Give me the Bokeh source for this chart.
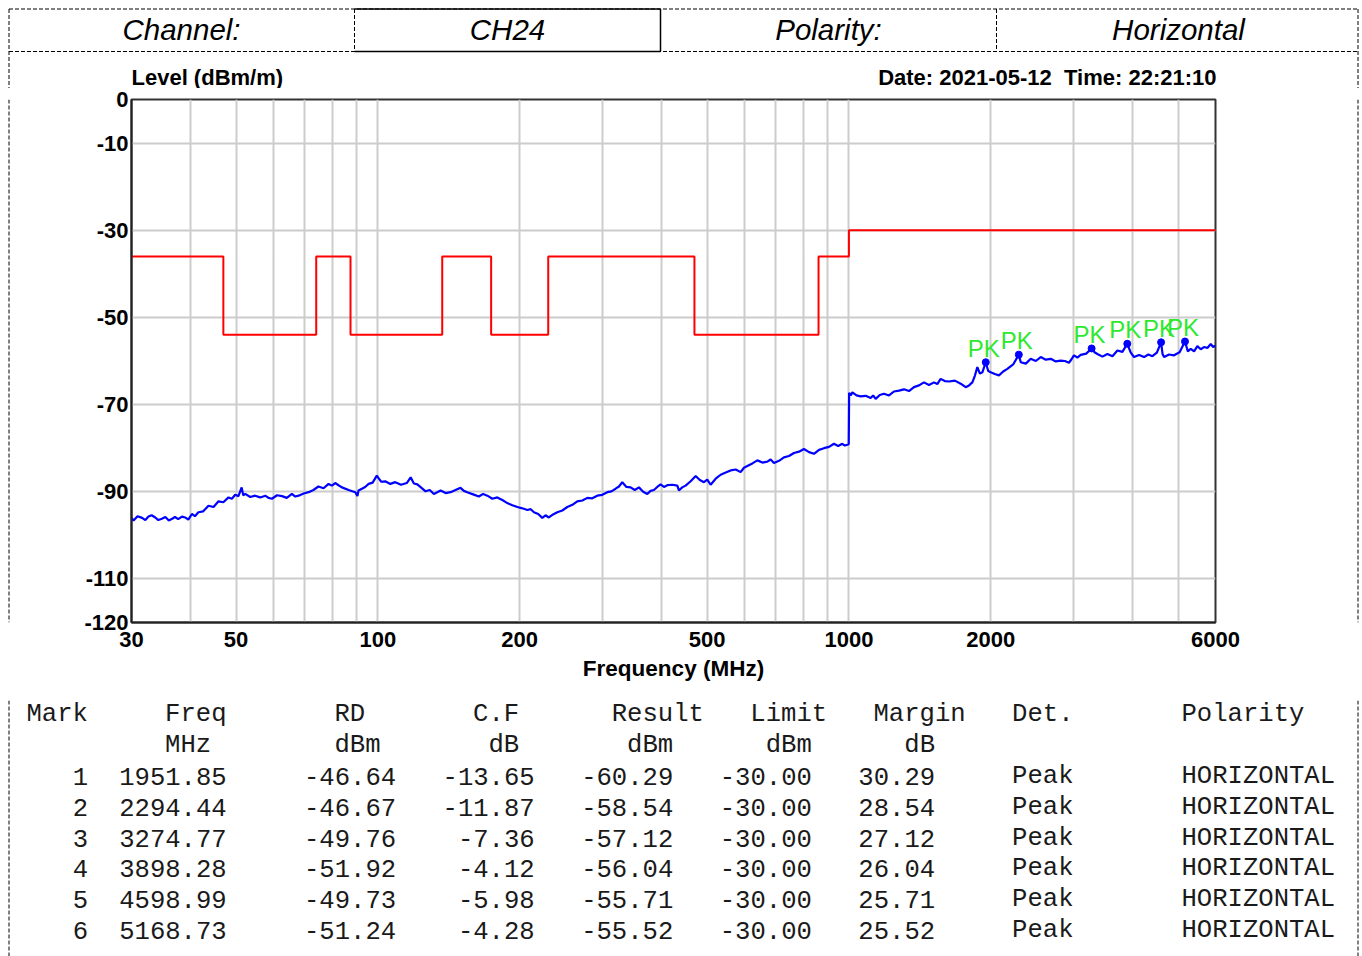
from bokeh.plotting import figure
from bokeh.layouts import column, row
from bokeh.models import Range1d, FixedTicker, NumeralTickFormatter, ColumnDataSource
from bokeh.core.properties import value
from bokeh.embed import file_html
from bokeh.resources import INLINE

# ---------------- data ----------------
trace_freq = [
    30.0, 30.3, 30.9, 31.6, 32.1, 32.6, 33.1, 33.7, 34.2, 34.8, 35.4, 36.0, 36.6, 37.1, 37.7,
    38.4, 39.0, 39.6, 40.3, 40.9, 41.6, 42.6, 43.7, 44.8, 45.9, 47.0, 48.2, 49.0, 49.8, 50.6,
    51.4, 51.8, 52.3, 53.6, 54.9, 56.3, 57.7, 58.6, 59.6, 61.1, 62.6, 64.1, 65.7, 66.8, 67.9,
    69.6, 71.3, 73.0, 74.8, 76.7, 78.6, 79.9, 81.2, 82.5, 83.9, 86.7, 89.6, 90.5, 91.0, 92.5,
    94.0, 95.6, 97.5, 99.5, 101.6, 103.7, 106.3, 108.9, 112.0, 115.2, 117.4, 119.3, 121.3,
    123.8, 126.3, 128.9, 131.5, 133.7, 135.9, 139.3, 142.7, 146.2, 149.8, 152.3, 154.8, 159.3,
    163.9, 167.3, 170.8, 175.0, 179.3, 183.8, 188.3, 193.0, 197.8, 202.7, 207.7, 211.1, 214.5,
    219.0, 223.4, 227.0, 230.7, 235.5, 240.4, 246.4, 252.5, 258.8, 265.1, 271.7, 278.4, 285.3,
    292.3, 299.6, 307.0, 313.3, 319.7, 325.0, 330.3, 337.1, 344.0, 351.1, 358.3, 365.8, 373.3,
    379.4, 385.5, 391.9, 398.3, 405.0, 411.7, 422.0, 432.3, 435.6, 442.8, 450.1, 461.4, 472.8,
    482.5, 492.3, 500.5, 508.7, 521.4, 534.2, 547.6, 561.0, 575.0, 589.0, 598.8, 608.6, 623.9,
    639.2, 655.2, 671.2, 682.2, 693.2, 710.5, 727.9, 746.1, 764.4, 783.5, 802.7, 822.8, 842.9,
    864.1, 885.3, 907.3, 929.4, 948.8, 968.3, 980.2, 992.2, 999.0, 1000.0, 1001.0, 1008.9,
    1016.9, 1038.0, 1059.0, 1085.5, 1112.0, 1125.7, 1139.5, 1163.0, 1186.6, 1216.5, 1246.3,
    1277.5, 1308.7, 1341.4, 1374.2, 1408.6, 1443.1, 1479.2, 1515.3, 1540.4, 1565.6, 1598.1,
    1630.6, 1678.6, 1726.7, 1748.0, 1769.3, 1798.7, 1828.1, 1850.7, 1873.3, 1896.6, 1920.0,
    1951.85, 1975.6, 1999.5, 2040.7, 2082.0, 2125.6, 2169.3, 2231.9, 2294.44, 2316.0, 2373.9,
    2431.8, 2492.7, 2553.6, 2617.6, 2681.7, 2748.7, 2815.8, 2873.7, 2931.6, 2968.0, 3004.2,
    3054.5, 3104.7, 3189.7, 3274.77, 3321.6, 3368.4, 3453.0, 3537.6, 3626.1, 3714.6, 3806.4,
    3898.28, 3963.3, 4028.4, 4130.0, 4231.5, 4320.0, 4408.5, 4503.7, 4598.99, 4632.3, 4665.6,
    4782.5, 4899.3, 5034.0, 5168.73, 5241.9, 5315.1, 5403.3, 5491.5, 5581.7, 5671.8, 5766.8,
    5861.7, 5930.9, 6000.0]
trace_level = [
    -96.0, -96.6, -95.6, -96.0, -96.5, -95.7, -95.4, -95.9, -96.5, -96.2, -95.8, -96.6, -96.2,
    -95.8, -96.3, -95.7, -95.9, -96.4, -95.1, -95.6, -94.7, -94.5, -93.2, -93.5, -92.2, -92.4,
    -91.3, -91.6, -90.7, -91.0, -89.0, -90.8, -90.5, -91.2, -90.9, -91.3, -90.9, -91.4, -91.6,
    -90.8, -91.0, -91.4, -90.5, -91.1, -90.9, -90.4, -90.1, -89.6, -88.8, -89.2, -88.2, -88.6,
    -88.0, -88.5, -89.0, -89.6, -90.1, -91.0, -89.7, -89.3, -88.9, -88.2, -87.9, -86.3, -87.7,
    -87.6, -88.2, -87.8, -88.4, -88.0, -86.7, -88.1, -88.3, -89.1, -89.9, -89.6, -90.5, -90.1,
    -89.7, -90.3, -90.1, -89.6, -89.1, -89.8, -90.1, -90.6, -91.1, -90.5, -90.9, -91.6, -91.3,
    -91.9, -92.6, -93.1, -93.5, -93.8, -94.2, -94.0, -94.7, -95.1, -96.0, -95.4, -95.9, -95.2,
    -94.7, -94.3, -93.5, -93.0, -92.2, -92.0, -91.4, -91.5, -90.9, -90.7, -90.1, -89.9, -89.3,
    -88.8, -87.8, -88.9, -89.0, -89.6, -89.0, -90.0, -90.5, -89.8, -89.6, -88.9, -88.3, -88.9,
    -88.5, -88.4, -88.6, -89.7, -89.0, -88.6, -87.6, -86.4, -87.3, -87.8, -87.2, -88.4, -87.0,
    -86.1, -85.6, -85.1, -84.9, -85.5, -84.5, -84.1, -83.5, -82.8, -83.3, -83.1, -82.6, -83.4,
    -82.9, -82.1, -81.8, -81.1, -80.8, -80.2, -80.9, -81.3, -80.4, -80.0, -79.7, -79.0, -79.5,
    -79.0, -79.4, -79.2, -79.1, -74.0, -67.3, -67.9, -67.2, -67.9, -68.1, -68.0, -68.5, -67.9,
    -68.7, -67.8, -67.5, -67.9, -67.0, -66.8, -66.5, -66.9, -66.0, -65.6, -64.9, -65.5, -64.9,
    -65.3, -64.1, -64.6, -64.7, -64.5, -65.2, -65.6, -66.0, -65.6, -64.9, -63.4, -61.4, -62.9,
    -62.6, -60.29, -62.3, -62.6, -63.0, -63.3, -62.4, -61.8, -60.8, -58.54, -60.3, -60.6,
    -59.5, -60.0, -59.1, -59.7, -59.5, -60.1, -59.9, -60.0, -60.4, -59.6, -58.7, -59.2, -58.6,
    -58.3, -57.12, -58.0, -58.4, -59.0, -58.4, -58.9, -57.6, -57.9, -56.04, -58.0, -59.1,
    -58.6, -59.1, -58.5, -58.9, -58.1, -55.71, -58.4, -59.1, -58.5, -58.7, -58.0, -55.52,
    -57.8, -57.2, -57.8, -56.6, -57.3, -56.8, -57.0, -56.1, -56.8, -56.5]

limit_edges = [30, 47, 74, 87.5, 137, 174, 230, 470, 862, 1000, 6000]
limit_level = [-36, -54, -36, -54, -36, -54, -36, -54, -36, -30]

mark_no = [1, 2, 3, 4, 5, 6]
mark_freq = [1951.85, 2294.44, 3274.77, 3898.28, 4598.99, 5168.73]
mark_rd = [-46.64, -46.67, -49.76, -51.92, -49.73, -51.24]
mark_cf = [-13.65, -11.87, -7.36, -4.12, -5.98, -4.28]
mark_result = [-60.29, -58.54, -57.12, -56.04, -55.71, -55.52]
mark_limit = [-30.00, -30.00, -30.00, -30.00, -30.00, -30.00]
mark_margin = [30.29, 28.54, 27.12, 26.04, 25.71, 25.52]
mark_det = ["Peak", "Peak", "Peak", "Peak", "Peak", "Peak"]
mark_pol = ["HORIZONTAL"] * 6

x_ticks = [30, 50, 100, 200, 500, 1000, 2000, 6000]
x_grid = [40, 50, 60, 70, 80, 90, 100, 200, 300, 400, 500, 600, 700, 800, 900, 1000,
          2000, 3000, 4000, 5000]
y_ticks = [0, -10, -30, -50, -70, -90, -110, -120]
y_grid = [-10, -30, -50, -70, -90, -110]

header_texts = ["Channel:", "CH24", "Polarity:", "Horizontal"]
table_head1 = ["Mark", "Freq", "RD", "C.F", "Result", "Limit", "Margin", "Det.", "Polarity"]
table_head2 = ["MHz", "dBm", "dB", "dBm", "dBm", "dB"]

# ---------------- layout constants (page pixels) ----------------
W = 1362
TOP_H = 88          # header band: y 0..88
MID_H = 612         # chart band:  y 88..700
BOT_H = 956 - TOP_H - MID_H   # table band: y 700..956
XL, XR = 8.5, 1357.5          # outer dashed page border
SANS = value("Liberation Sans")
MONO = value("Liberation Mono")
DASH = "4 2"


def pix_fig(w, h, x0, y0):
    f = figure(width=w, height=h, x_range=Range1d(x0, x0 + w), y_range=Range1d(y0 + h, y0),
               output_backend="svg", toolbar_location=None, min_border=0,
               x_axis_location=None, y_axis_location=None)
    f.xgrid.visible = False
    f.ygrid.visible = False
    f.outline_line_color = None
    f.background_fill_color = "white"
    f.border_fill_color = "white"
    return f


# ---------------- header band ----------------
top = pix_fig(W, TOP_H, 0, 0)
top.segment(x0=[XL, XL, XL, XR, 354, 996], y0=[8.5, 51, 8.5, 8.5, 8.5, 8.5],
            x1=[XR, XR, XL, XR, 354, 996], y1=[8.5, 51, TOP_H, TOP_H, 51, 51],
            line_color="black", line_width=1, line_dash=DASH)
top.segment(x0=[354, 354, 660], y0=[8.5, 51, 8.5], x1=[660, 660, 660], y1=[8.5, 51, 51],
            line_color="black", line_width=1.5)
top.text(x=[181, 507, 828, 1178], y=[29] * 4, text=header_texts, text_font=SANS,
         text_font_size="29.5px", text_font_style="italic", text_align="center",
         text_baseline="middle", text_color="black")
top.text(x=[131], y=[76.5], text=["Level (dBm/m)"], text_font=SANS, text_font_size="22px",
         text_font_style="bold", text_align="left", text_baseline="middle", text_color="black")
top.text(x=[1216], y=[76.5], text=["Date: 2021-05-12\u00a0 Time: 22:21:10"], text_font=SANS,
         text_font_size="22px", text_font_style="bold", text_align="right",
         text_baseline="middle", text_color="black")

# ---------------- chart band ----------------
LS, RS = 12, 10   # side strips carrying the page border
MW = W - LS - RS
p = figure(width=MW, height=MID_H, x_axis_type="log",
           x_range=Range1d(30, 6000), y_range=Range1d(-120, 0),
           output_backend="svg", toolbar_location=None,
           min_border_left=131 - LS, min_border_right=(LS + MW) - 1215,
           min_border_top=99 - TOP_H, min_border_bottom=(TOP_H + MID_H) - 622)
p.background_fill_color = "white"
p.border_fill_color = "white"
p.outline_line_color = "#333333"
p.outline_line_width = 2

p.xaxis.ticker = FixedTicker(ticks=x_ticks)
p.xaxis.formatter = NumeralTickFormatter(format="0")
p.yaxis.ticker = FixedTicker(ticks=y_ticks)
p.yaxis.formatter = NumeralTickFormatter(format="0")
p.xgrid.ticker = FixedTicker(ticks=x_grid)
p.ygrid.ticker = FixedTicker(ticks=y_grid)
for g in (p.xgrid, p.ygrid):
    g.grid_line_color = "#cccccc"
    g.grid_line_width = 2
for ax in (p.xaxis, p.yaxis):
    ax.axis_line_color = "#222222"
    ax.axis_line_width = 2
    ax.major_tick_line_color = None
    ax.minor_tick_line_color = None
    ax.major_tick_out = 0
    ax.major_tick_in = 0
    ax.minor_tick_out = 0
    ax.major_label_text_font = "Liberation Sans"
    ax.major_label_text_font_style = "bold"
    ax.major_label_text_font_size = "22px"
    ax.major_label_text_color = "black"
p.xaxis.major_label_standoff = 9
p.yaxis.major_label_standoff = 3
p.xaxis.axis_label = "Frequency (MHz)"
p.xaxis.axis_label_text_font = "Liberation Sans"
p.xaxis.axis_label_text_font_style = "bold"
p.xaxis.axis_label_text_font_size = "22.5px"
p.xaxis.axis_label_text_color = "black"
p.xaxis.axis_label_standoff = 6

p.step(limit_edges, limit_level + [limit_level[-1]], mode="after",
       line_color="#ff0000", line_width=2)
p.line(trace_freq, trace_level, line_color="#0000ff", line_width=2.2)
p.scatter(mark_freq, mark_result, size=7, color="#0000ff")
p.text(mark_freq, mark_result, text=["PK"] * len(mark_freq),
       text_font=SANS, text_font_size="24px", text_color="#2ee82e",
       text_align="center", text_baseline="alphabetic", x_offset=-2, y_offset=-14)

left_strip = pix_fig(LS, MID_H, 0, TOP_H)
left_strip.segment(x0=[XL], y0=[TOP_H], x1=[XL], y1=[TOP_H + MID_H],
                   line_color="black", line_width=1, line_dash=DASH)
right_strip = pix_fig(RS, MID_H, W - RS, TOP_H)
right_strip.segment(x0=[XR], y0=[TOP_H], x1=[XR], y1=[TOP_H + MID_H],
                    line_color="black", line_width=1, line_dash=DASH)

# ---------------- table band ----------------
bot = pix_fig(W, BOT_H, 0, TOP_H + MID_H)
bot.segment(x0=[XL, XR], y0=[TOP_H + MID_H] * 2, x1=[XL, XR], y1=[960, 960],
            line_color="black", line_width=1, line_dash=DASH)

X0, CW = 26, 15.4          # monospace character grid
ROW0, ROWH = 776, 30.8
head1_cols = [0, 9, 20, 29, 38, 47, 55, 64, 75]
head2_cols = [9, 20, 30, 39, 48, 57]
TXT = dict(text_font=MONO, text_font_size="25.6px", text_baseline="middle",
           text_color="#1a1a1a")
bot.text(x=[X0 + c * CW for c in head1_cols], y=[714] * len(head1_cols), text=table_head1,
         text_align="left", **TXT)
bot.text(x=[X0 + c * CW for c in head2_cols], y=[745] * len(head2_cols), text=table_head2,
         text_align="left", **TXT)

n = len(mark_no)
rows_y = [ROW0 + i * ROWH for i in range(n)]
num_cols = [
    (4, [str(v) for v in mark_no]),
    (13, [f"{v:.2f}" for v in mark_freq]),
    (24, [f"{v:.2f}" for v in mark_rd]),
    (33, [f"{v:.2f}" for v in mark_cf]),
    (42, [f"{v:.2f}" for v in mark_result]),
    (51, [f"{v:.2f}" for v in mark_limit]),
    (59, [f"{v:.2f}" for v in mark_margin]),
]
for c, texts in num_cols:
    src = ColumnDataSource(dict(x=[X0 + c * CW] * n, y=rows_y, t=texts))
    bot.text(x="x", y="y", text="t", source=src, text_align="right", **TXT)
for c, texts in ((64, mark_det), (75, mark_pol)):
    src = ColumnDataSource(dict(x=[X0 + c * CW] * n, y=rows_y, t=texts))
    bot.text(x="x", y="y", text="t", source=src, text_align="left", **TXT)

layout = column(top, row(left_strip, p, right_strip), bot)
open("out.html", "w").write(file_html(layout, INLINE))
